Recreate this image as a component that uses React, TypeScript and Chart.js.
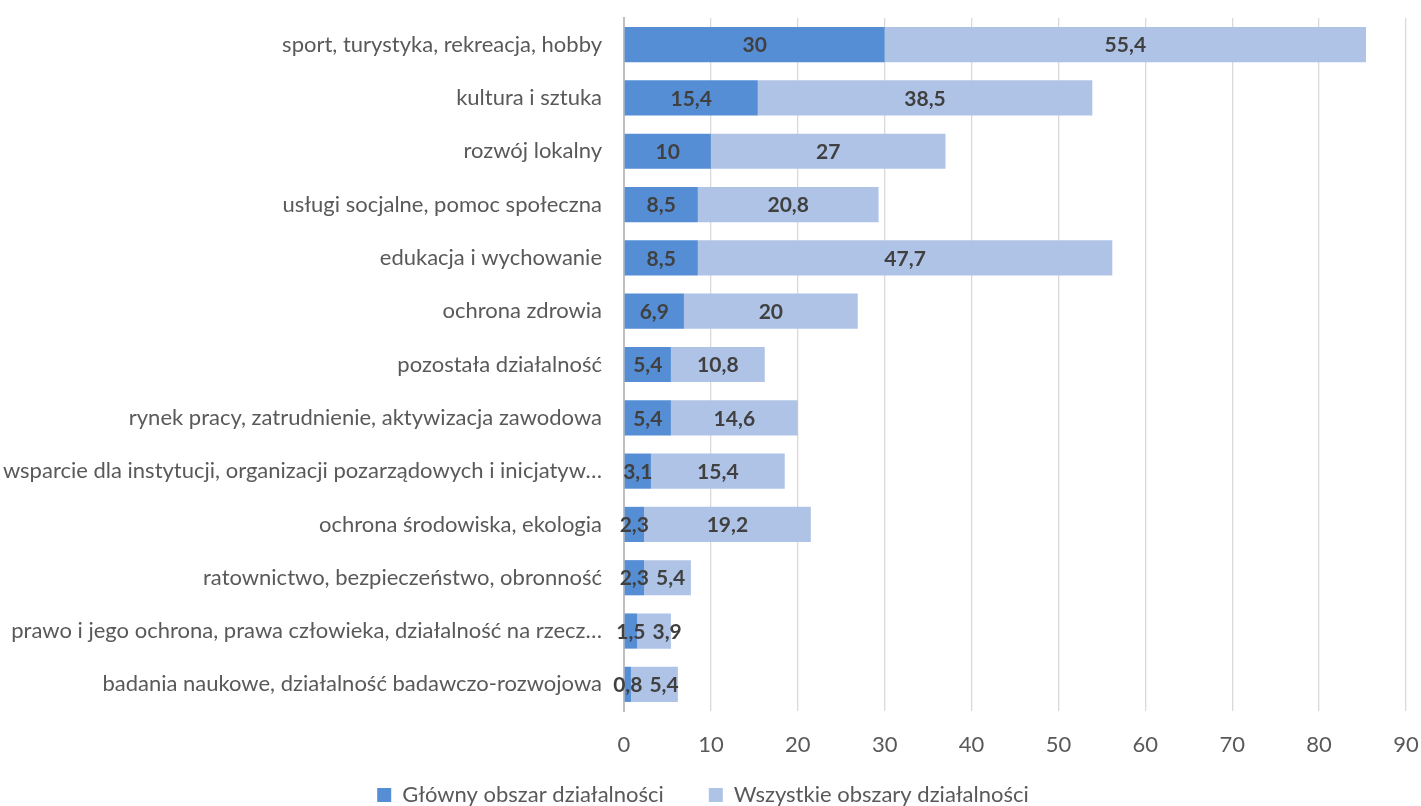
import React, { useEffect, useRef } from "react";
import { Chart, registerables } from "chart.js";

Chart.register(...registerables);

const categories = [
  "sport, turystyka, rekreacja, hobby",
  "kultura i sztuka",
  "rozwój lokalny",
  "usługi socjalne, pomoc społeczna",
  "edukacja i wychowanie",
  "ochrona zdrowia",
  "pozostała działalność",
  "rynek pracy, zatrudnienie, aktywizacja zawodowa",
  "wsparcie dla instytucji, organizacji pozarządowych i inicjatyw…",
  "ochrona środowiska, ekologia",
  "ratownictwo, bezpieczeństwo, obronność",
  "prawo i jego ochrona, prawa człowieka, działalność na rzecz…",
  "badania naukowe, działalność badawczo-rozwojowa",
];

const mainArea = [30, 15.4, 10, 8.5, 8.5, 6.9, 5.4, 5.4, 3.1, 2.3, 2.3, 1.5, 0.8];
const allAreas = [55.4, 38.5, 27, 20.8, 47.7, 20, 10.8, 14.6, 15.4, 19.2, 5.4, 3.9, 5.4];

const seriesNames = ["Główny obszar działalności", "Wszystkie obszary działalności"];
const xTicks = [0, 10, 20, 30, 40, 50, 60, 70, 80, 90];

const FONT = "Lato, 'Open Sans', sans-serif";

const labelPlugin = {
  id: "segLabels",
  afterDatasetsDraw(chart: any) {
    const ctx = chart.ctx;
    ctx.save();
    ctx.font = `bold 21px ${FONT}`;
    ctx.fillStyle = "#404040";
    ctx.textAlign = "center";
    ctx.textBaseline = "middle";
    const prevRight: number[] = [];
    chart.data.datasets.forEach((ds: any, di: number) => {
      const meta = chart.getDatasetMeta(di);
      meta.data.forEach((el: any, i: number) => {
        const txt = String(ds.data[i]).replace(".", ",");
        const w = ctx.measureText(txt).width;
        let cx = (el.x + el.base) / 2;
        if (prevRight[i] !== undefined && cx - w / 2 < prevRight[i] + 7) {
          cx = prevRight[i] + 7 + w / 2;
        }
        prevRight[i] = cx + w / 2;
        ctx.fillText(txt, cx, el.y + 1);
      });
    });
    ctx.restore();
  },
};

export default function App() {
  const ref = useRef<HTMLCanvasElement>(null);
  useEffect(() => {
    document.body.style.margin = "0";
    const chart = new Chart(ref.current!, {
      type: "bar",
      data: {
        labels: categories,
        datasets: [
          {
            label: seriesNames[0],
            data: mainArea,
            backgroundColor: "#558ed5",
            barPercentage: 0.66,
            categoryPercentage: 1,
          },
          {
            label: seriesNames[1],
            data: allAreas,
            backgroundColor: "#afc3e7",
            barPercentage: 0.66,
            categoryPercentage: 1,
          },
        ],
      },
      options: {
        indexAxis: "y",
        animation: false,
        responsive: false,
        maintainAspectRatio: false,
        layout: { padding: { top: 18, right: 15, left: 0, bottom: -10 } },
        scales: {
          x: {
            stacked: true,
            min: 0,
            max: 90,
            afterBuildTicks: (scale: any) => {
              scale.ticks = xTicks.map((v) => ({ value: v }));
            },
            afterFit: (scale: any) => {
              scale.height = 28;
              scale.paddingLeft = 0;
              scale.paddingRight = 0;
            },
            ticks: {
              color: "#595959",
              font: { family: FONT, size: 22 },
              padding: -47,
              mirror: true,
            },
            grid: { color: "#d9d9d9", lineWidth: 1.3, drawTicks: false },
            border: { display: false },
          },
          y: {
            stacked: true,
            afterFit: (scale: any) => {
              scale.width = 624;
              scale.paddingTop = 0;
              scale.paddingBottom = 0;
            },
            ticks: {
              color: "#595959",
              font: { family: FONT, size: 22 },
              padding: 22,
              autoSkip: false,
            },
            grid: { display: false, drawTicks: false },
            border: { display: true, color: "#bfbfbf", width: 2 },
          },
        },
        plugins: {
          legend: {
            position: "bottom",
            labels: {
              color: "#595959",
              font: { family: FONT, size: 22 },
              boxWidth: 14,
              boxHeight: 14,
              padding: 45,
            },
          },
          tooltip: { enabled: false },
        },
      },
      plugins: [labelPlugin],
    } as any);
    return () => chart.destroy();
  }, []);
  return (
    <div style={{ position: "fixed", left: 0, top: 0, width: 1421, height: 806 }}>
      <canvas ref={ref} width={1421} height={806} />
    </div>
  );
}
